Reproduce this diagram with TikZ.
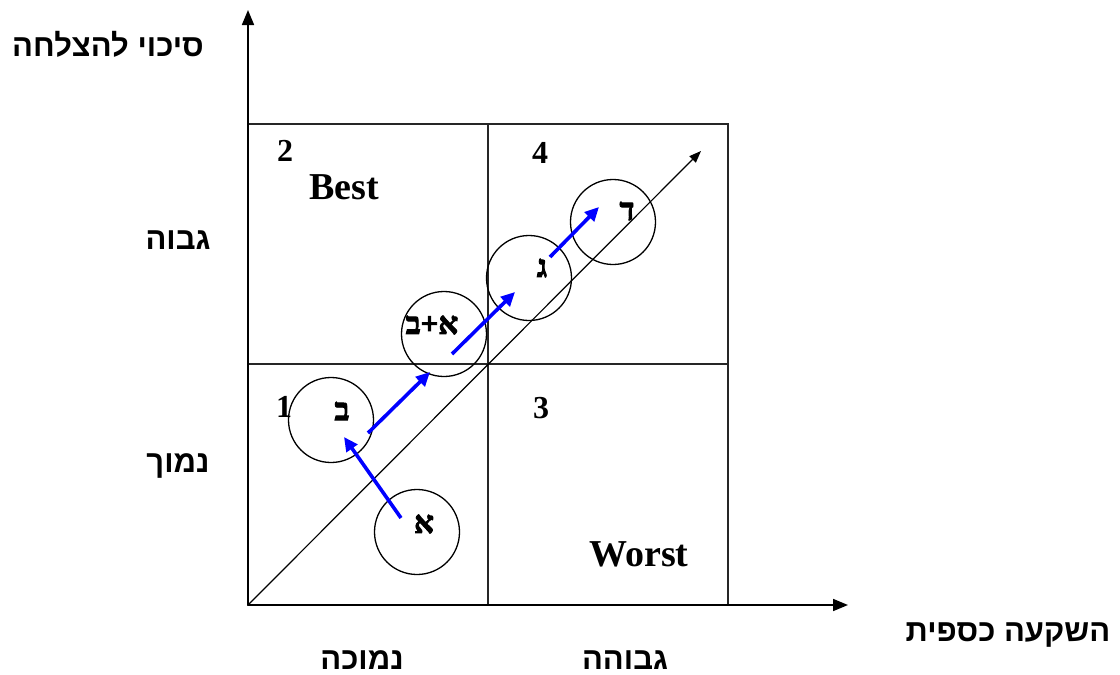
\documentclass[tikz,border=0pt]{standalone}
\usepackage{fontspec}
\setmainfont{Liberation Serif}
\newfontfamily\hebsans[Script=Hebrew]{Liberation Sans}
\newfontfamily\hebserif[Script=Hebrew,BoldFeatures={FakeBold=3}]{Liberation Serif}
\TeXXeTstate=1
\usetikzlibrary{arrows.meta}
\begin{document}
\begin{tikzpicture}[x=1pt,y=-1pt,
  axis/.style={line width=1.7pt,-{Triangle[length=15pt,width=12pt]}},
  gridline/.style={line width=1.4pt,draw=black!85},
  diag/.style={line width=1.2pt,-{Triangle[length=12pt,width=9pt]}},
  ring/.style={circle,draw,line width=1.3pt,minimum size=85pt,inner sep=0pt},
  move/.style={draw=blue,line width=3.6pt,-{Triangle[length=14pt,width=13pt]}},
  heb/.style={inner sep=0pt,font=\hebsans\bfseries\fontsize{31}{34}\selectfont},
  num/.style={inner sep=0pt,font=\bfseries\fontsize{32}{34}\selectfont},
  word/.style={inner sep=0pt,font=\bfseries\fontsize{38}{40}\selectfont},
  letter/.style={inner sep=0pt,font=\hebserif\bfseries\fontsize{31}{33}\selectfont}]
\useasboundingbox (0,0) rectangle (1120,675);
% axes
\coordinate (O) at (248,605);
\coordinate (Ytip) at (248,10);
\coordinate (Xtip) at (848,605);
\coordinate (Dtip) at (701,151);
% grid
\draw[gridline] (248,124) rectangle (728,605);
\draw[gridline] (488,124) -- (488,605);
\draw[gridline] (248,364) -- (728,364);
\draw[axis] (O) -- (Ytip);
\draw[axis] (O) -- (Xtip);
\draw[diag] (O) -- (Dtip);
% circles
\node[ring] (cA) at (417,532) {};
\node[ring] (cB) at (331,420) {};
\node[ring] (cAB) at (444,334) {};
\node[ring] (cG) at (529,278) {};
\node[ring] (cD) at (613,222) {};
% circle letters
\node[letter] (lA) at (424,524) {\beginR א\endR};
\node[letter] (lB) at (342,411) {\beginR ב\endR};
\node[letter] (lAB) at (432,325) {\beginR א+ב\endR};
\node[letter] (lG) at (542,268) {\beginR ג\endR};
\node[letter] (lD) at (627,211) {\beginR ד\endR};
% arrow endpoints
\coordinate (a1s) at (401,518); \coordinate (a1e) at (344,437);
\coordinate (a2s) at (368,433); \coordinate (a2e) at (430,372);
\coordinate (a3s) at (452,354); \coordinate (a3e) at (515,292);
\coordinate (a4s) at (550,257); \coordinate (a4e) at (599,207);
\draw[move] (a1s) -- (a1e);
\draw[move] (a2s) -- (a2e);
\draw[move] (a3s) -- (a3e);
\draw[move] (a4s) -- (a4e);
% quadrant labels
\node[num] (n2) at (285,151) {2};
\node[num] (n4) at (540,153) {4};
\node[num] (n1) at (284,407) {1};
\node[num] (n3) at (541,408) {3};
\node[word] (best) at (344,187) {Best};
\node[word] (worst) at (639,554) {Worst};
% axis labels
\node[heb] (ylab) at (108,44) {\beginR סיכוי להצלחה\endR};
\node[heb] (yhigh) at (178,240) {\beginR גבוה\endR};
\node[heb] (ylow) at (178,466) {\beginR נמוך\endR};
\node[heb] (xlab) at (1008,635) {\beginR השקעה כספית\endR};
\node[heb] (xlow) at (362,660) {\beginR נמוכה\endR};
\node[heb] (xhigh) at (625,660) {\beginR גבוהה\endR};
\end{tikzpicture}
\end{document}
